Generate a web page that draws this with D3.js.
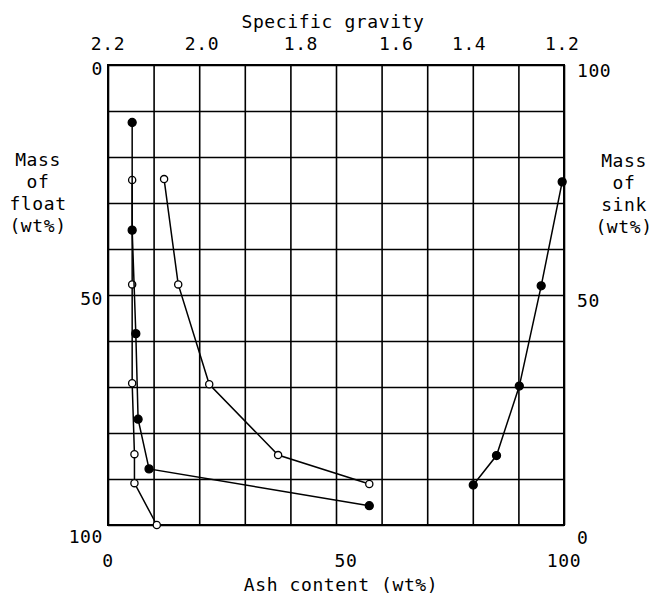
<html>
<head>
    <script src="https://cdn.jsdelivr.net/npm/d3@7"></script>
    <style>
        body { margin: 0; background: white; }
        svg { display: block; }
        text { font-family: "DejaVu Sans Mono", "Liberation Mono", monospace; font-size: 18px; letter-spacing: 0.6px; fill: black; }
    </style>
</head>
<body>
<svg id="chart"></svg>
<script>
    // values (ash wt% on x, mass of float wt% on y)
    const ashTicks = [0, 50, 100];
    const floatTicks = [0, 50, 100];
    const sinkTicks = [100, 50, 0];
    const sgTicks = [2.2, 2.0, 1.8, 1.6, 1.4, 1.2];
    const sgAsAsh = [0, 20.6, 42.3, 63.2, 79.2, 99.6]; // where each gravity label sits on the ash axis

    // elementary ash of each fraction (filled dots)
    const elemMass = [12.5, 35.9, 58.4, 77.0, 87.8, 95.8];
    const elemAsh = [5.3, 5.3, 6.1, 6.6, 9.0, 57.3];

    // cumulative float ash (open dots)
    const floatMass = [25.0, 47.7, 69.2, 84.6, 90.9, 100];
    const floatAsh = [5.3, 5.3, 5.3, 5.8, 5.8, 10.7];

    // cumulative sink ash (open dots)
    const sinkMass = [24.8, 47.7, 69.4, 84.8, 91.1];
    const sinkAsh = [12.3, 15.4, 22.2, 37.3, 57.3];

    // specific gravity curve (filled dots, right side)
    const sgMass = [25.4, 48.0, 69.8, 84.9, 91.3];
    const sgAsh = [99.6, 95.0, 90.2, 85.2, 80.1];

    const width = 659, height = 598;
    const svg = d3.select("#chart").attr("width", width).attr("height", height);

    const x = d3.scaleLinear().domain([0, 100]).range([108, 564]);
    const y = d3.scaleLinear().domain([0, 100]).range([65, 525]);
    const ySink = d3.scaleLinear().domain([0, 100]).range([525, 65]);
    const sgScale = d3.scaleLinear().domain(sgTicks).range(sgAsAsh.map(d => x(d)));

    // grid 10 x 10
    svg.append("g")
        .attr("transform", "translate(0,525)")
        .call(d3.axisBottom(x).ticks(10).tickSize(-460).tickFormat(""))
        .call(g => g.select(".domain").remove())
        .selectAll("line").attr("stroke", "black").attr("stroke-width", 1.6);
    svg.append("g")
        .attr("transform", "translate(108,0)")
        .call(d3.axisLeft(y).ticks(10).tickSize(-456).tickFormat(""))
        .call(g => g.select(".domain").remove())
        .selectAll("line").attr("stroke", "black").attr("stroke-width", 1.6);

    svg.append("rect")
        .attr("x", x(0)).attr("y", y(0))
        .attr("width", x(100) - x(0)).attr("height", y(100) - y(0))
        .attr("fill", "none").attr("stroke", "black").attr("stroke-width", 2);

    // tick labels
    svg.selectAll(".sg").data(sgTicks).enter().append("text")
        .attr("x", d => sgScale(d)).attr("y", 50)
        .attr("text-anchor", "middle")
        .text(d => d.toFixed(1));

    svg.selectAll(".ash").data(ashTicks).enter().append("text")
        .attr("x", d => x(d) + (d == 50 ? 10 : 0)).attr("y", 567)
        .attr("text-anchor", "middle")
        .text(d => d);

    svg.selectAll(".fl").data(floatTicks).enter().append("text")
        .attr("x", 103).attr("y", d => y(d) + (d == 0 ? 10 : d == 50 ? 10 : 18))
        .attr("text-anchor", "end")
        .text(d => d);

    svg.selectAll(".sk").data(sinkTicks).enter().append("text")
        .attr("x", 577).attr("y", d => ySink(d) + (d == 100 ? 12 : d == 50 ? 12 : 19))
        .attr("text-anchor", "start")
        .text(d => d);

    // axis titles
    svg.append("text").attr("x", 333).attr("y", 28).attr("text-anchor", "middle").text("Specific gravity");
    svg.append("text").attr("x", 341).attr("y", 591).attr("text-anchor", "middle").text("Ash content (wt%)");

    ["Mass", "of", "float", "(wt%)"].forEach((t, i) => {
        svg.append("text").attr("x", 38).attr("y", 166 + i * 22).attr("text-anchor", "middle").text(t);
    });
    ["Mass", "of", "sink", "(wt%)"].forEach((t, i) => {
        svg.append("text").attr("x", 624).attr("y", 167 + i * 22).attr("text-anchor", "middle").text(t);
    });

    // series
    const line = d3.line().x(d => x(d[0])).y(d => y(d[1]));
    function drawSeries(ash, mass, filled) {
        let pts = ash.map((a, i) => [a, mass[i]]);
        svg.append("path").datum(pts)
            .attr("d", line)
            .attr("fill", "none").attr("stroke", "black").attr("stroke-width", 1.5);
        svg.append("g").selectAll("circle").data(pts).enter().append("circle")
            .attr("cx", d => x(d[0])).attr("cy", d => y(d[1]))
            .attr("r", filled ? 4 : 3.6)
            .attr("fill", filled ? "black" : "white")
            .attr("stroke", "black").attr("stroke-width", 1.3);
    }
    drawSeries(floatAsh, floatMass, false);
    drawSeries(elemAsh, elemMass, true);
    drawSeries(sinkAsh, sinkMass, false);
    drawSeries(sgAsh, sgMass, true);
</script>
</body>
</html>
